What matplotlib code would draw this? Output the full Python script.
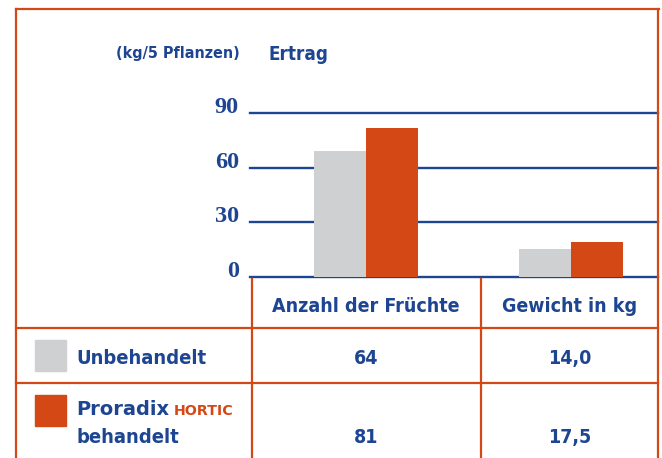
import matplotlib
matplotlib.use("Agg")
import matplotlib.pyplot as plt
from matplotlib.lines import Line2D

# data
categories = ["Anzahl der Früchte", "Gewicht in kg"]
bar_untreated = [69, 15.4]
bar_treated = [81.8, 19.2]
table_untreated = ["64", "14,0"]
table_treated = ["81", "17,5"]
yticks = [0, 30, 60, 90]

BLUE = "#1d4591"
ORANGE = "#d44816"
GRAY = "#cfd0d2"
W, H = 662, 458
SANS = "DejaVu Sans"
SERIF = ["Liberation Serif", "DejaVu Serif"]


def fx(x):
    return x / W


def fy(y):
    return 1 - y / H


def label(x, y, s, size, ha="left", color=BLUE, **kw):
    kw.setdefault("family", SANS)
    kw.setdefault("fontstretch", "condensed")
    kw.setdefault("fontweight", "bold")
    fig.text(fx(x), fy(y), s, ha=ha, va="baseline", color=color,
             fontsize=size, **kw)


fig = plt.figure(figsize=(W / 100, H / 100), dpi=100)

# chart area: 0 at y=277, 90 at y=113, x from 250 to 658
ax = fig.add_axes([fx(250), fy(277), fx(658) - fx(250), fy(113) - fy(277)])
ax.set_ylim(0, 90)
ax.set_xlim(-0.566, 1.424)
ax.axis("off")

w = 0.254
xs = list(range(len(categories)))
ax.bar([x - w / 2 for x in xs], bar_untreated, width=w, color=GRAY, zorder=2)
ax.bar([x + w / 2 for x in xs], bar_treated, width=w, color=ORANGE, zorder=2)

for t in yticks:
    ax.axhline(t, color=BLUE, lw=1.7, zorder=1, clip_on=False)
    ax.annotate(str(t), xy=(0, t), xycoords=("axes fraction", "data"),
                xytext=(-8, 0), textcoords="offset points",
                ha="right", va="baseline", color=BLUE, fontsize=17.5,
                fontweight="bold", family=SERIF, annotation_clip=False)

# titles
label(240, 58, "(kg/5 Pflanzen)", 11.5, ha="right")
label(268, 60, "Ertrag", 13.5)


# frame and table lines
def hline(y, x0, x1, color=ORANGE):
    fig.add_artist(Line2D([fx(x0), fx(x1)], [fy(y), fy(y)], color=color,
                          lw=1.6, transform=fig.transFigure))


def vline(x, y0, y1, color=ORANGE):
    fig.add_artist(Line2D([fx(x), fx(x)], [fy(y0), fy(y1)], color=color,
                          lw=1.6, transform=fig.transFigure))


hline(9, 16, 659)
vline(16, 9, 460)
vline(658, 9, 460)
hline(328, 16, 658)
hline(383, 16, 658)
vline(252, 279, 460)
vline(481, 279, 460)

# column headers and values
col_x = [366, 570]
for cx, cat, v1, v2 in zip(col_x, categories, table_untreated, table_treated):
    label(cx, 312, cat, 14, ha="center")
    label(cx, 364, v1, 14, ha="center")
    label(cx, 443, v2, 14, ha="center")

# legend rows
fig.add_artist(plt.Rectangle((fx(35), fy(371)), fx(66) - fx(35), fy(340) - fy(371),
                             color=GRAY, transform=fig.transFigure))
fig.add_artist(plt.Rectangle((fx(35), fy(426)), fx(66) - fx(35), fy(395) - fy(426),
                             color=ORANGE, transform=fig.transFigure))
label(76, 364, "Unbehandelt", 14.5)
label(76, 415, "Proradix", 14, fontstretch="normal", fontweight="heavy")
label(174, 415, "HORTIC", 10.3, color=ORANGE, fontstretch="normal")
label(76, 443, "behandelt", 14.5)

fig.savefig("out.png", dpi=100)
